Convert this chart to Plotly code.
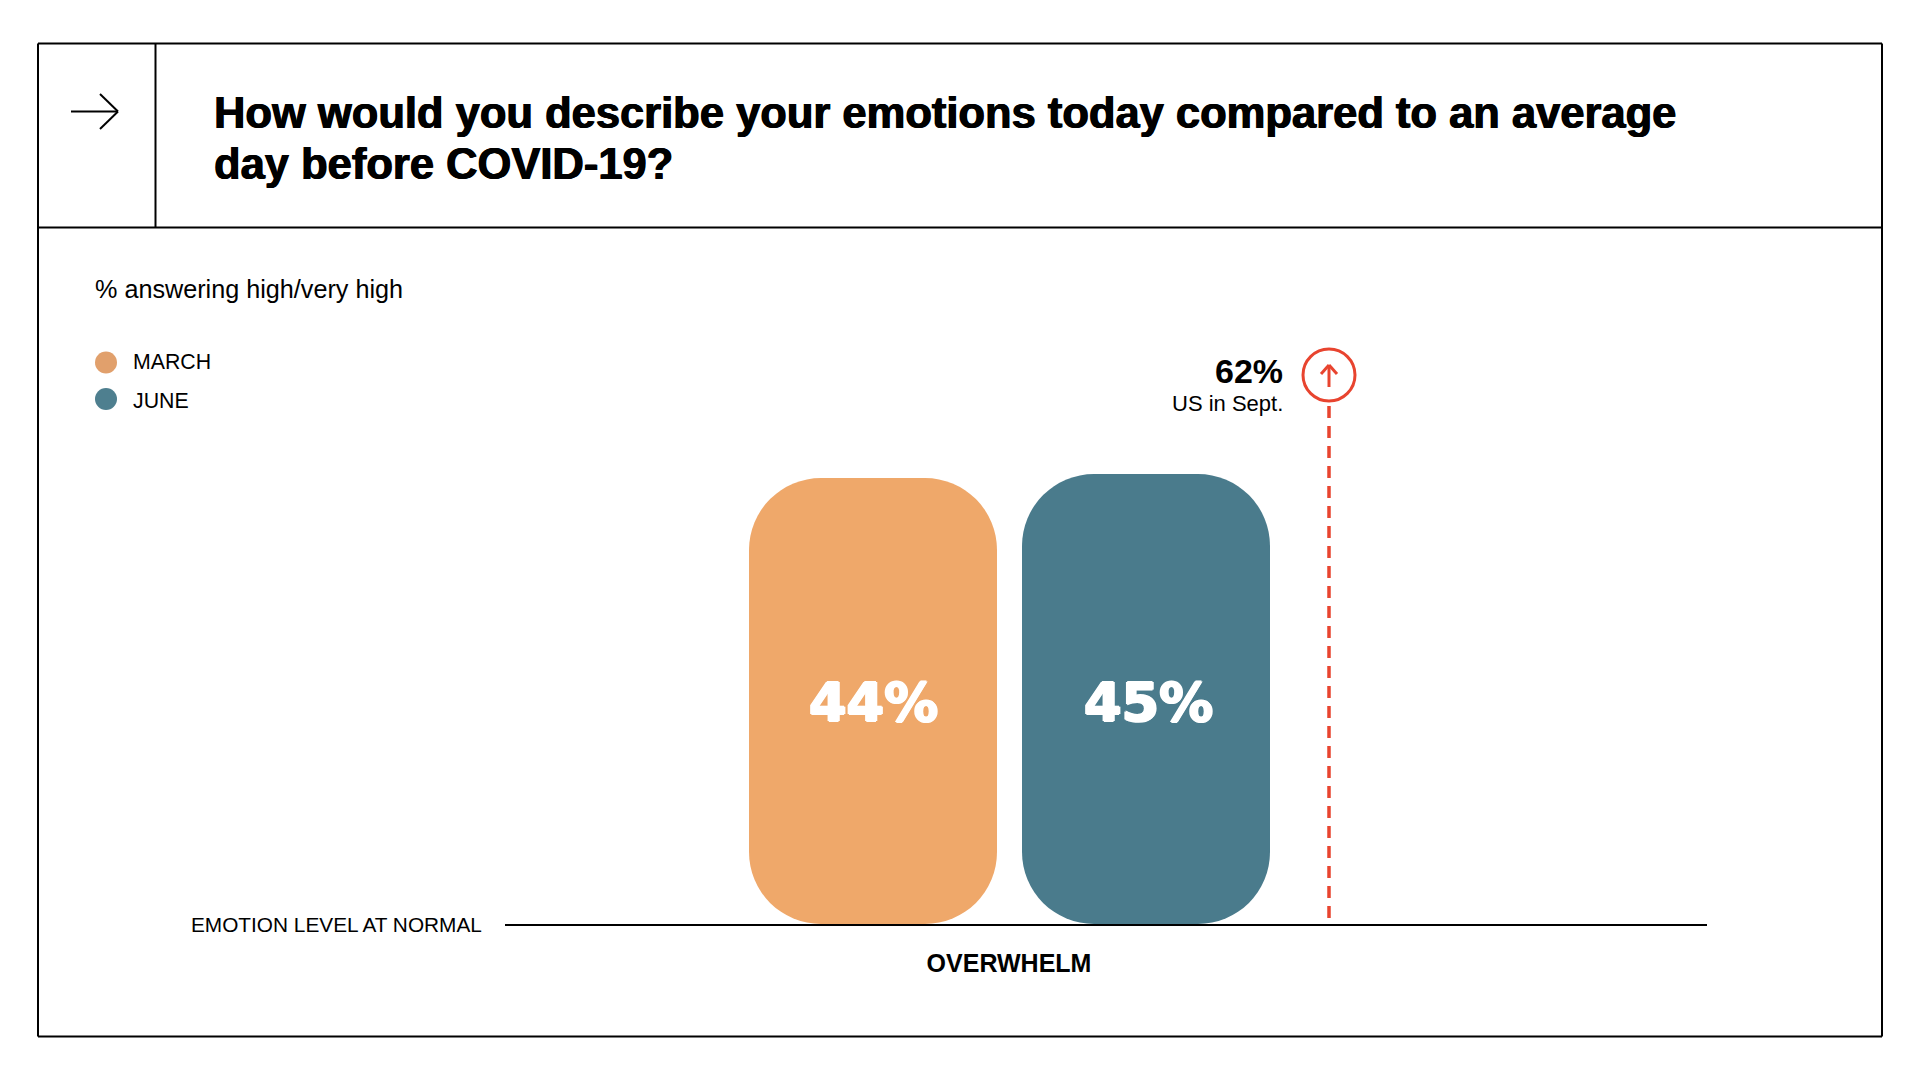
#!/usr/bin/env python3
"""Overwhelm bar chart: March vs June, with the US September marker."""

import plotly.graph_objects as go

# Data
CATEGORY = 'OVERWHELM'
SERIES = ['MARCH', 'JUNE']
VALUES = [44, 45]
VALUE_LABELS = ['44%', '45%']
US_SEPT = 62
US_LABEL = '62%'
US_NOTE = 'US in Sept.'
NORMAL_LEVEL = -67.5
NORMAL_LABEL = 'EMOTION LEVEL AT NORMAL'
TITLE_LINES = ['How would you describe your emotions today compared to an average',
               'day before COVID-19?']
SUBTITLE = '% answering high/very high'

# Style
W, H = 1920, 1080
COLORS = {'MARCH': '#EFA86A', 'JUNE': '#4A7B8C', 'red': '#E8442F', 'ink': '#000000'}
LEGEND_COLORS = {'MARCH': '#E1A06C', 'JUNE': '#4E7F8F'}
FONT = 'Liberation Sans'
WIDE_FONT = 'DejaVu Sans'
X_POS = [-0.136, 0.137]
BAR_WIDTH = 0.248
US_X = 0.32
CORNER = 72


def px(x):
    return x / W


def py(y):
    return 1 - y / H


def rule(x0, y0, x1, y1, color='#000000', width=2):
    return dict(type='line', xref='paper', yref='paper', x0=px(x0), y0=py(y0), x1=px(x1), y1=py(y1),
                line=dict(color=color, width=width))


def label(x, y, text, size, anchor='left', bold=False, color='#000000', family=FONT, shadow='none'):
    return dict(xref='paper', yref='paper', x=px(x), y=py(y), text=f'<b>{text}</b>' if bold else text,
                showarrow=False, xanchor=anchor, yanchor='middle',
                font=dict(family=family, size=size, color=color, shadow=shadow))


# The reference faces are heavier than the installed bolds
TITLE_SHADOW = '0.6px 0 0 #000, -0.6px 0 0 #000'
VALUE_SHADOW = '1.2px 0 0 #fff, -1.2px 0 0 #fff, 0 0.8px 0 #fff, 0 -0.8px 0 #fff'

fig = go.Figure()

for name, xpos, value in zip(SERIES, X_POS, VALUES):
    # Bars stand on the normal line, not on zero
    fig.add_trace(go.Bar(
        x=[xpos], y=[value - NORMAL_LEVEL], base=NORMAL_LEVEL, width=BAR_WIDTH, name=name,
        marker=dict(color=COLORS[name], cornerradius=CORNER, line=dict(width=0)),
        showlegend=False,
    ))

fig.add_trace(go.Scatter(
    x=[US_X, US_X], y=[US_SEPT, NORMAL_LEVEL], mode='lines',
    line=dict(color=COLORS['red'], width=3.5, dash='12px 8px'), showlegend=False,
))

shapes = [
    rule(38, 43.5, 1882, 43.5), rule(38, 1036.5, 1882, 1036.5),
    rule(38, 43.5, 38, 1036.5), rule(1882, 43.5, 1882, 1036.5),
    rule(38, 227.5, 1882, 227.5), rule(155.5, 43.5, 155.5, 227.5),
    # header arrow
    rule(71, 111.5, 118, 111.5), rule(100, 94, 118, 111.5), rule(100, 129, 118, 111.5),
    # marker circle and its arrow
    dict(type='circle', xref='paper', yref='paper', x0=px(1303), x1=px(1355), y0=py(349), y1=py(401),
         line=dict(color=COLORS['red'], width=3), fillcolor='white'),
    rule(1329, 387, 1329, 366, COLORS['red'], 3),
    rule(1321, 374, 1329, 365, COLORS['red'], 3), rule(1337, 374, 1329, 365, COLORS['red'], 3),
]
for name, cy in zip(SERIES, [362.5, 399]):
    shapes.append(dict(type='circle', xref='paper', yref='paper', x0=px(95), x1=px(117),
                       y0=py(cy - 11), y1=py(cy + 11),
                       fillcolor=LEGEND_COLORS[name], line=dict(width=0)))

annotations = [
    label(212, 113, TITLE_LINES[0], 43.5, bold=True, shadow=TITLE_SHADOW),
    label(212, 164, TITLE_LINES[1], 43.5, bold=True, shadow=TITLE_SHADOW),
    label(93, 289, SUBTITLE, 25.2),
    label(131, 362, SERIES[0], 21.3),
    label(131, 401, SERIES[1], 21.3),
    label(1285, 371, US_LABEL, 34, anchor='right', bold=True),
    label(1285, 404, US_NOTE, 22, anchor='right'),
    label(484, 924, NORMAL_LABEL, 20.8, anchor='right'),
    label(873, 702, VALUE_LABELS[0], 54, anchor='center', bold=True, color='white', family=WIDE_FONT,
          shadow=VALUE_SHADOW),
    label(1148, 702, VALUE_LABELS[1], 54, anchor='center', bold=True, color='white', family=WIDE_FONT,
          shadow=VALUE_SHADOW),
]

fig.update_layout(
    width=W, height=H,
    margin=dict(l=0, r=0, t=0, b=0),
    barmode='overlay',
    plot_bgcolor='white',
    paper_bgcolor='white',
    shapes=shapes,
    annotations=annotations,
    xaxis=dict(
        domain=[px(505), px(1707)],
        range=[-0.504, 0.698],
        tickvals=[0],
        ticktext=[f'<b>{CATEGORY}</b>'],
        tickfont=dict(family=FONT, size=25, color=COLORS['ink']),
        ticks='outside', ticklen=16, tickcolor='rgba(0,0,0,0)',
        showgrid=False, zeroline=False,
        showline=True, linecolor=COLORS['ink'], linewidth=2,
    ),
    yaxis=dict(
        domain=[py(924), py(300)],
        range=[NORMAL_LEVEL, 88.5],
        visible=False,
    ),
)

# body margin would push the page 8px off the window origin
fig.write_html("out.html", config=dict(displayModeBar=False),
               post_script="document.body.style.margin = '0';")
